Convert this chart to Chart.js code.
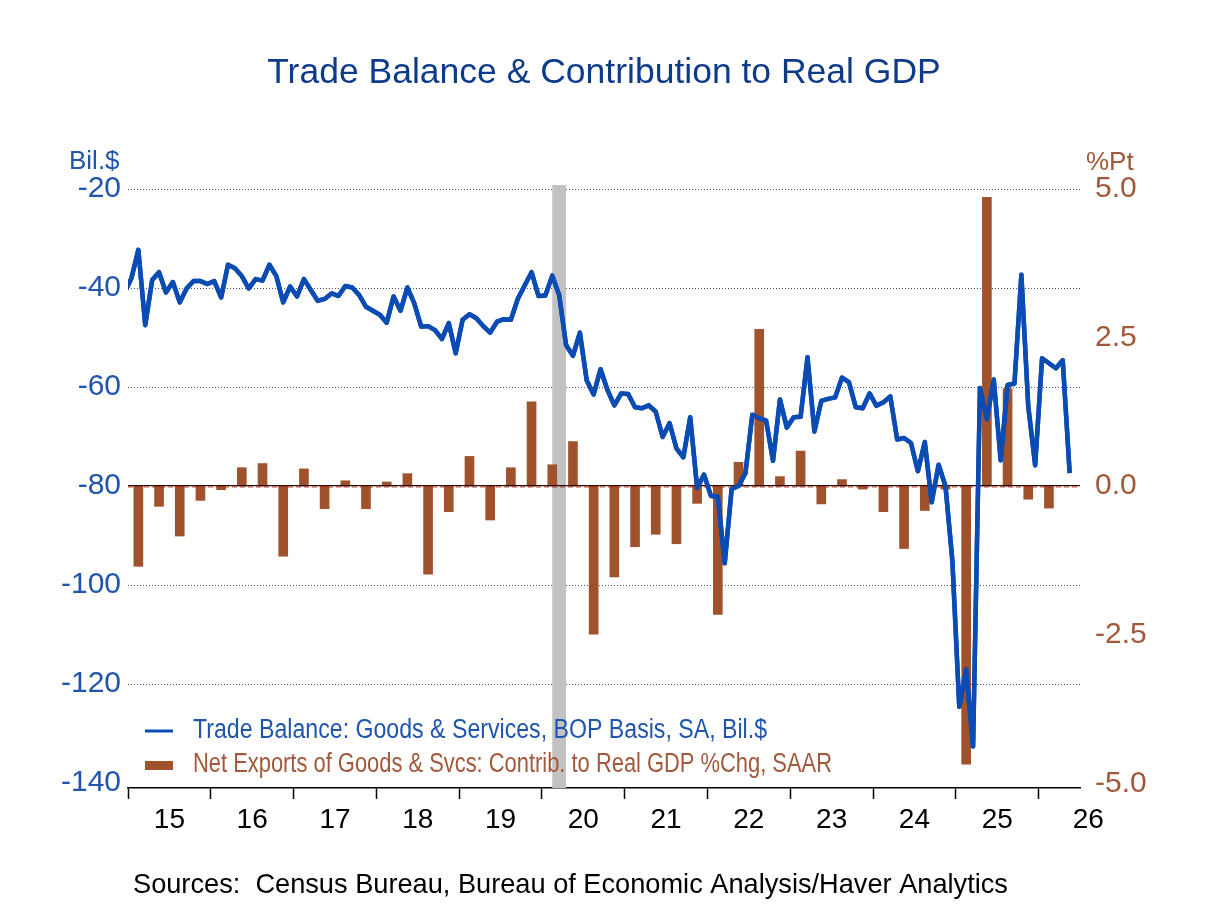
<!DOCTYPE html>
<html>
<head>
<meta charset="utf-8">
<title>Trade Balance & Contribution to Real GDP</title>
<script src="https://cdn.jsdelivr.net/npm/chart.js@4.4.1/dist/chart.umd.min.js"></script>
<style>
  html, body { margin: 0; padding: 0; background: #fff; }
  #wrap { width: 1208px; height: 906px; }
</style>
</head>
<body>
<div id="wrap"><canvas id="tradeChart" width="1208" height="906"></canvas></div>
<script>
// trade balance, monthly, first value = Dec 2014 (Bil.$)
const tbStartYear = 2014;
const tbStartMonth = 11; // 0 = Jan
const tradeBalance = [
  -41.0,
  -38.0, -32.3, -47.5, -38.4, -36.8, -40.9, -38.8, -42.9, -40.1, -38.6, -38.6, -39.2,
  -38.6, -41.9, -35.3, -36.0, -37.6, -40.1, -38.2, -38.5, -35.3, -37.6, -42.9, -39.7,
  -41.7, -38.2, -40.4, -42.6, -42.2, -41.1, -41.6, -39.6, -39.9, -41.4, -43.8, -44.6,
  -45.4, -47.0, -41.7, -44.6, -39.9, -43.1, -47.8, -47.7, -48.5, -50.3, -47.1, -53.2,
  -46.4, -45.3, -46.1, -47.7, -49.0, -46.8, -46.3, -46.4, -42.2, -39.5, -36.8, -41.6,
  -41.5, -37.5, -41.4, -51.5, -53.7, -49.0, -58.7, -61.5, -56.4, -60.6, -63.7, -61.3,
  -61.4, -64.1, -64.3, -63.7, -65.0, -70.1, -67.3, -72.4, -74.2, -66.1, -80.4, -77.7,
  -82.0, -82.1, -95.6, -80.6, -80.0, -77.4, -65.6, -66.3, -66.8, -74.9, -62.5, -68.2,
  -66.1, -66.0, -54.0, -69.0, -62.8, -62.4, -62.1, -58.1, -59.0, -64.1, -64.3, -61.3,
  -63.8, -63.1, -61.9, -70.6, -70.3, -71.3, -77.0, -71.1, -83.3, -75.7, -80.0, -95.1,
  -124.6, -117.0, -132.6, -60.2, -66.5, -58.5, -74.8, -59.6, -59.3, -37.3, -63.9, -75.8,
  -54.2, -55.2, -56.2, -54.6, -77.4
];

// net exports contribution to real GDP, quarterly from Q1 2015 (%Pt)
const neStartYear = 2015;
const netExports = [
  -1.35, -0.34, -0.84, -0.24,
  -0.06, 0.31, 0.38, -1.18,
  0.29, -0.38, 0.09, -0.38,
  0.07, 0.21, -1.48, -0.43,
  0.50, -0.57, 0.31, 1.42,
  0.36, 0.75, -2.49, -1.53,
  -1.02, -0.81, -0.97, -0.29,
  -2.16, 0.40, 2.64, 0.16,
  0.59, -0.30, 0.11, -0.05,
  -0.43, -1.05, -0.41, -0.05,
  -4.68, 4.86, 1.64, -0.22,
  -0.37
];

const yearLabels = ['15', '16', '17', '18', '19', '20', '21', '22', '23', '24', '25', '26'];
const leftTicks = [-140, -120, -100, -80, -60, -40, -20];
const rightTicks = [-5, -2.5, 0, 2.5, 5];
// recession months (peak, trough)
const recessions = [[2020, 1, 2020, 3]];

const FONT = '"Liberation Sans", Arial, sans-serif';
const BLUE = '#0b4cb4';
const BLUE_TXT = '#1f55ad';
const BROWN = '#a0522d';
const BROWN_TXT = '#a2583a';

function monthX(year, month) {
  return year + (month + 0.5) / 12;
}

const linePts = tradeBalance.map((v, i) => ({ x: monthX(tbStartYear, tbStartMonth + i), y: v }));
const barPts = netExports.map((v, q) => ({ x: neStartYear + (q + 0.5) / 4, y: v }));

// year boundaries get tick marks, mid-years carry labels
const xTicks = [];
for (let i = 0; i < yearLabels.length; i++) {
  xTicks.push(2015 + i);
  xTicks.push(i === yearLabels.length - 1 ? 2015 + i + 0.6 : 2015 + i + 0.5);
}

function tickVal(c) {
  return c && c.tick ? c.tick.value : null;
}

// narrow legend text: squeeze Liberation Sans to the condensed width
function narrowText(ctx, text, x, y, width) {
  const w = ctx.measureText(text).width;
  ctx.save();
  ctx.translate(x, y);
  ctx.scale(width / w, 1);
  ctx.fillText(text, 0, 0);
  ctx.restore();
}

const decor = {
  id: 'decor',
  beforeDatasetsDraw(chart) {
    const { ctx, chartArea, scales } = chart;
    ctx.save();
    ctx.fillStyle = '#c2c2c2';
    recessions.forEach(r => {
      const x1 = scales.x.getPixelForValue(monthX(r[0], r[1]));
      const x2 = scales.x.getPixelForValue(monthX(r[2], r[3]));
      ctx.fillRect(x1, chartArea.top - 4, x2 - x1, chartArea.bottom - chartArea.top + 4);
    });
    ctx.restore();
  },
  afterDatasetsDraw(chart) {
    const { ctx, chartArea, scales } = chart;
    // zero line of the right axis: dark line with red dashes
    const y0 = scales.y2.getPixelForValue(0);
    ctx.save();
    ctx.strokeStyle = '#2a0f08';
    ctx.lineWidth = 1.2;
    ctx.beginPath();
    ctx.moveTo(chartArea.left, y0 - 0.5);
    ctx.lineTo(chartArea.right, y0 - 0.5);
    ctx.stroke();
    ctx.strokeStyle = '#b3301e';
    ctx.lineWidth = 1;
    ctx.setLineDash([5, 3]);
    ctx.beginPath();
    ctx.moveTo(chartArea.left, y0 + 0.8);
    ctx.lineTo(chartArea.right, y0 + 0.8);
    ctx.stroke();
    ctx.restore();
    // keep the trade balance line on top of the zero line
    ctx.save();
    ctx.beginPath();
    ctx.rect(chartArea.left, chartArea.top - 10, chartArea.right - chartArea.left, chartArea.bottom - chartArea.top + 10);
    ctx.clip();
    chart.getDatasetMeta(0).controller.draw();
    ctx.restore();
  },
  afterDraw(chart) {
    const { ctx, chartArea } = chart;
    const ds = chart.data.datasets;
    ctx.save();
    ctx.textBaseline = 'middle';

    // title
    ctx.fillStyle = '#0d3b8a';
    ctx.font = '35.5px ' + FONT;
    ctx.textAlign = 'center';
    ctx.fillText('Trade Balance & Contribution to Real GDP', 604, 73);

    // axis units
    ctx.font = '26px ' + FONT;
    ctx.textAlign = 'left';
    ctx.fillStyle = BLUE_TXT;
    ctx.fillText('Bil.$', 69, 162);
    ctx.fillStyle = BROWN_TXT;
    ctx.fillText('%Pt', 1086, 163);

    // legend
    const lx = chartArea.left + 17;
    ctx.strokeStyle = BLUE;
    ctx.lineWidth = 3;
    ctx.beginPath();
    ctx.moveTo(lx, 731);
    ctx.lineTo(lx + 28, 731);
    ctx.stroke();
    ctx.fillStyle = BROWN;
    ctx.fillRect(lx, 761, 28, 9);
    ctx.font = '27px ' + FONT;
    ctx.fillStyle = BLUE_TXT;
    narrowText(ctx, ds[0].label, 193, 731, 574);
    ctx.fillStyle = BROWN_TXT;
    narrowText(ctx, ds[1].label, 193, 765, 639);

    // sources
    ctx.fillStyle = '#000';
    ctx.font = '27.2px ' + FONT;
    ctx.fillText('Sources:  Census Bureau, Bureau of Economic Analysis/Haver Analytics', 133, 886);
    ctx.restore();
  }
};

const ctx = document.getElementById('tradeChart').getContext('2d');

new Chart(ctx, {
  type: 'bar',
  data: {
    datasets: [{
      type: 'line',
      label: 'Trade Balance: Goods & Services, BOP Basis, SA, Bil.$',
      data: linePts,
      yAxisID: 'y',
      borderColor: BLUE,
      borderWidth: 4.5,
      borderJoinStyle: 'round',
      pointRadius: 0,
      tension: 0,
      order: 0
    }, {
      type: 'bar',
      label: 'Net Exports of Goods & Svcs: Contrib. to Real GDP %Chg, SAAR',
      data: barPts,
      yAxisID: 'y2',
      backgroundColor: BROWN,
      barThickness: 9,
      order: 1
    }]
  },
  options: {
    responsive: false,
    animation: false,
    devicePixelRatio: 1,
    layout: { padding: { top: 189, left: 0, right: 0, bottom: 0 } },
    plugins: {
      legend: { display: false },
      title: { display: false },
      tooltip: { enabled: false }
    },
    scales: {
      x: {
        type: 'linear',
        min: 2015,
        max: 2026.5,
        offset: false,
        afterBuildTicks: s => { s.ticks = xTicks.map(v => ({ value: v })); },
        afterFit: s => { s.height = 118; },
        grid: {
          offset: false,
          drawOnChartArea: false,
          drawTicks: true,
          tickLength: 11,
          tickWidth: 1.5,
          tickColor: c => Number.isInteger(tickVal(c)) ? '#000' : 'rgba(0,0,0,0)'
        },
        border: { display: true, color: '#000', width: 1.5 },
        ticks: {
          autoSkip: false,
          maxRotation: 0,
          padding: 4,
          color: '#000',
          font: { family: FONT, size: 28 },
          callback: v => Number.isInteger(v) ? '' : yearLabels[Math.floor(v) - 2015]
        }
      },
      y: {
        position: 'left',
        min: -141,
        max: -20,
        afterBuildTicks: s => { s.ticks = leftTicks.map(v => ({ value: v })); },
        afterFit: s => { s.width = 128; },
        grid: {
          drawTicks: false,
          lineWidth: 1,
          color: c => (tickVal(c) === -140 || tickVal(c) === -80) ? 'rgba(0,0,0,0)' : '#46567e'
        },
        border: { display: false, dash: [1, 2] },
        ticks: { color: BLUE_TXT, padding: 7, font: { family: FONT, size: 30 } }
      },
      y2: {
        position: 'right',
        min: -5.08,
        max: 5,
        afterBuildTicks: s => { s.ticks = rightTicks.map(v => ({ value: v })); },
        afterFit: s => { s.width = 128; },
        grid: { display: false },
        border: { display: false },
        ticks: {
          color: BROWN_TXT,
          padding: 7,
          font: { family: FONT, size: 30 },
          callback: v => v.toFixed(1)
        }
      }
    }
  },
  plugins: [decor]
});
</script>
</body>
</html>
